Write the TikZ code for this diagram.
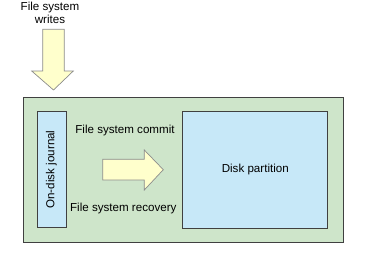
\documentclass[tikz,border=0pt]{standalone}
\usepackage{fontspec}
\setmainfont{Liberation Sans}
\usepackage{xcolor}
\definecolor{panelgreen}{RGB}{206,229,202}
\definecolor{diskblue}{RGB}{199,232,248}
\definecolor{arrowyellow}{RGB}{255,255,204}
\definecolor{edgegray}{RGB}{64,64,64}

\begin{document}
\begin{tikzpicture}[x=1pt, y=-1pt,
    panel/.style={draw=edgegray, line width=0.9pt, fill=panelgreen},
    area/.style={draw=edgegray, line width=0.9pt, fill=diskblue, inner sep=0pt},
    blockarrow/.style={draw=black!45, line width=0.7pt, fill=arrowyellow, line join=miter},
    lbl/.style={font=\fontsize{11.6}{13.5}\selectfont, align=center, inner sep=0pt}
]
\useasboundingbox (0,0) rectangle (377,252);
\node[panel, minimum width=320pt, minimum height=145pt, inner sep=0pt] (vol) at (183,169.5) {};
\node[area, minimum width=29pt, minimum height=115.5pt] (journal) at (51.5,169.5) {};
\node[lbl, rotate=90] at (journal.center) {On-disk journal};
\node[area, minimum width=145pt, minimum height=117pt] (disk) at (255.3,169.5) {};
\node[lbl] at (disk.center) {Disk partition};
\node[lbl] (writes) at (50,13) {File system\\writes};
\node[lbl] (commit) at (125,130) {File system commit};
\node[lbl] (recover) at (123.3,208) {File system recovery};
% yellow block arrows
\draw[blockarrow] (42.7,29.3) -- (64.3,29.3) -- (64.3,71) -- (73.3,71) -- (53.5,90)
    -- (31.7,71) -- (42.7,71) -- cycle;
\draw[blockarrow] (102.7,159.3) -- (144.3,159.3) -- (144.3,150) -- (163.3,169.7)
    -- (144.3,190) -- (144.3,180) -- (102.7,180) -- cycle;
\end{tikzpicture}
\end{document}
